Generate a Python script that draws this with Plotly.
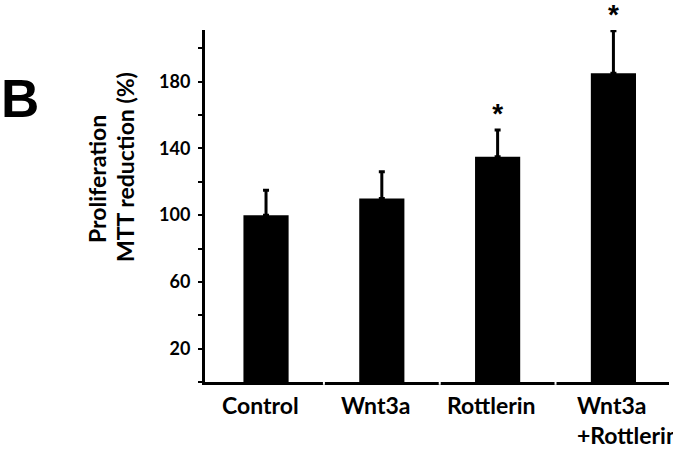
import plotly.graph_objects as go

categories = ["Control", "Wnt3a", "Rottlerin", "Wnt3a<br>+Rottlerin"]
values = [100, 110, 135, 185]
errors = [15, 16, 16, 25.5]
significant = [False, False, True, True]
tick_values = [0, 20, 40, 60, 80, 100, 120, 140, 160, 180, 200]
tick_labels = ["", "20", "", "60", "", "100", "", "140", "", "180", ""]

x_idx = list(range(len(categories)))

fig = go.Figure()
fig.add_trace(go.Bar(
    x=x_idx, y=values,
    marker=dict(color="black", line=dict(width=0)),
    width=0.39,
    error_y=dict(type="data", symmetric=False, array=errors,
                 arrayminus=[0] * len(errors), color="black",
                 thickness=3, width=3),
    cliponaxis=False,
))

sig_x = [i for i, s in zip(x_idx, significant) if s]
sig_y = [v + e for v, e, s in zip(values, errors, significant) if s]
fig.add_trace(go.Scatter(
    x=sig_x, y=sig_y, mode="text", text=["*"] * len(sig_x),
    textposition="top center", cliponaxis=False,
    textfont=dict(family="Liberation Sans", size=28, color="black", weight="bold"),
))

annotations = []
label_font = dict(family="Lato", size=23, color="black", weight="bold")
for i, c in enumerate(categories):
    if "<br>" in c:
        annotations.append(dict(x=i, y=0, xref="x", yref="paper", text=c,
                                showarrow=False, xanchor="left", yanchor="top",
                                align="left", xshift=-38, yshift=-7,
                                font=label_font))
    else:
        annotations.append(dict(x=i, y=0, xref="x", yref="paper", text=c,
                                showarrow=False, xanchor="center", yanchor="top",
                                xshift=-6, yshift=-7,
                                font=label_font))
# plot area: y from 30 (211) to 382 (0); height 352
title_font = dict(family="Lato", size=23, color="black", weight="bold")
annotations.append(dict(x=-0.2328, y=0.5767, xref="paper", yref="paper", text="Proliferation",
                        textangle=-90, showarrow=False, xanchor="center", yanchor="middle",
                        font=title_font))
annotations.append(dict(x=-0.1724, y=0.6108, xref="paper", yref="paper", text="MTT reduction (%)",
                        textangle=-90, showarrow=False, xanchor="center", yanchor="middle",
                        font=title_font))
annotations.append(dict(x=-0.444, y=0.8054, xref="paper", yref="paper", text="B",
                        showarrow=False, xanchor="left", yanchor="middle",
                        font=dict(family="Liberation Sans", size=53, color="black", weight="bold")))

shapes = []
for b in [0.5, 1.5, 2.5]:
    shapes.append(dict(type="line", x0=b, x1=b, y0=-0.008, y1=0.008, xref="x", yref="paper",
                       line=dict(color="white", width=2), layer="above"))

fig.update_layout(
    width=673, height=449,
    margin=dict(l=205, r=4, t=30, b=67),
    paper_bgcolor="white", plot_bgcolor="white",
    showlegend=False,
    annotations=annotations,
    shapes=shapes,
    xaxis=dict(range=[-0.527, 3.48], showline=True, linecolor="black", linewidth=3,
               showticklabels=False, ticks="", showgrid=False, zeroline=False,
               fixedrange=True),
    yaxis=dict(range=[0, 211], showline=True, linecolor="black", linewidth=3,
               tickvals=tick_values, ticktext=tick_labels, ticks="outside",
               ticklen=4, tickwidth=2, tickcolor="black", showgrid=False, zeroline=False,
               tickfont=dict(family="Lato", size=18, color="black", weight="bold"),
               ticklabelstandoff=4),
)

fig.write_html("out.html", config={"displayModeBar": False},
               post_script="document.body.style.margin='0';document.body.style.overflow='hidden';")
